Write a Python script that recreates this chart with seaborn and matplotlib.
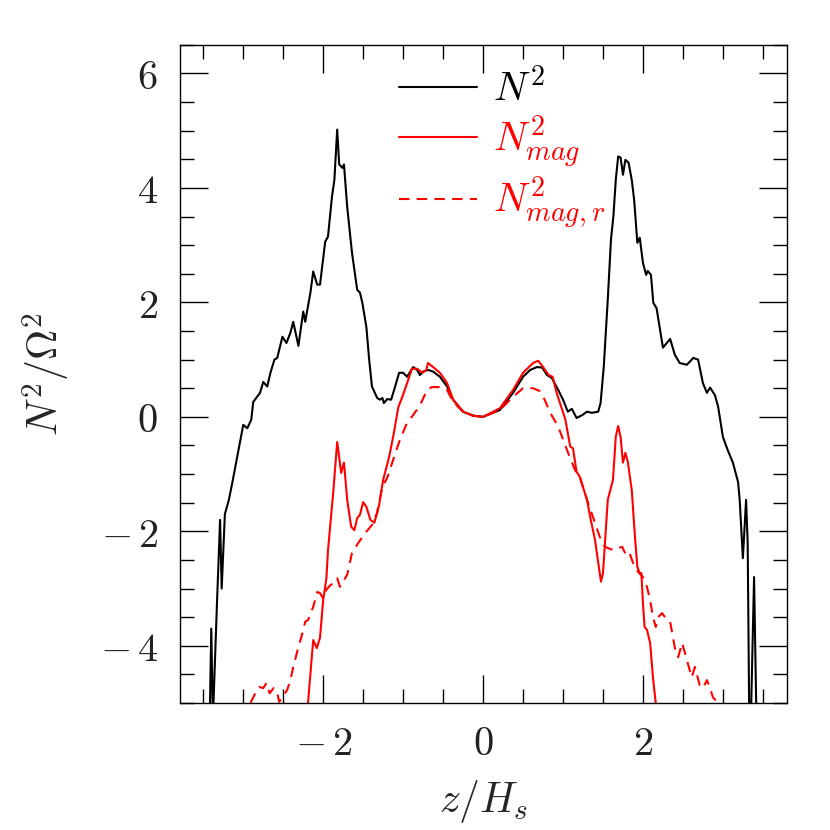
"""
Brunt-Vaisala frequency profiles across the disc height.
Total N^2 compared with the magnetic contributions N^2_mag and N^2_mag,r.
"""

import matplotlib
matplotlib.use("Agg")
import matplotlib.pyplot as plt
import seaborn as sns
from matplotlib.ticker import MultipleLocator

# ─────────────────────────────────────────────────────────────────────────────
# Data
# ─────────────────────────────────────────────────────────────────────────────

z_n2 = [
    -3.42, -3.40, -3.38, -3.33, -3.29, -3.27, -3.23, -3.18, -3.13, -3.06,
    -3.00, -2.95, -2.90, -2.875, -2.79, -2.75, -2.70, -2.66, -2.61, -2.575,
    -2.51, -2.46, -2.41, -2.375, -2.31, -2.25, -2.225, -2.16, -2.125, -2.075,
    -2.04, -1.975, -1.94, -1.89, -1.86, -1.825, -1.80, -1.76, -1.74, -1.70,
    -1.64, -1.575, -1.54, -1.51, -1.46, -1.425, -1.39, -1.325, -1.29, -1.26,
    -1.24, -1.20, -1.15, -1.10, -1.05, -1.00, -0.95, -0.875, -0.825, -0.79,
    -0.75, -0.69, -0.625, -0.54, -0.45, -0.375, -0.25, -0.125, 0.0,
    0.21, 0.375, 0.50, 0.59, 0.675, 0.74, 0.80, 0.86, 0.94, 1.00,
    1.06, 1.11, 1.17, 1.24, 1.30, 1.36, 1.44, 1.47, 1.51, 1.56,
    1.60, 1.63, 1.66, 1.69, 1.72, 1.75, 1.78, 1.82, 1.86, 1.89,
    1.93, 1.96, 2.00, 2.04, 2.06, 2.10, 2.13, 2.17, 2.25, 2.34,
    2.40, 2.46, 2.55, 2.63, 2.69, 2.75, 2.80, 2.84, 2.90, 2.94,
    3.00, 3.06, 3.125, 3.19, 3.21, 3.25, 3.29, 3.31, 3.33, 3.35,
    3.39, 3.42,
]
n2 = [
    -5.3, -3.7, -5.3, -3.3, -1.8, -3.0, -1.7, -1.45, -1.1, -0.58,
    -0.14, -0.2, -0.05, 0.26, 0.42, 0.61, 0.53, 0.77, 1.0, 1.03,
    1.4, 1.29, 1.47, 1.66, 1.24, 1.84, 1.66, 2.17, 2.54, 2.31,
    2.31, 3.06, 3.15, 3.85, 4.14, 5.02, 4.41, 4.35, 4.41, 3.67,
    2.87, 2.22, 2.17, 1.99, 1.57, 1.0, 0.53, 0.33, 0.3, 0.33,
    0.24, 0.31, 0.3, 0.53, 0.77, 0.77, 0.70, 0.87, 0.82, 0.73,
    0.79, 0.82, 0.79, 0.70, 0.53, 0.3, 0.09, 0.02, 0.0,
    0.12, 0.42, 0.7, 0.82, 0.87, 0.86, 0.73, 0.68, 0.47, 0.3,
    0.09, 0.14, -0.02, 0.03, 0.09, 0.07, 0.09, 0.24, 0.88, 2.05,
    3.1, 3.5, 4.14, 4.55, 4.53, 4.23, 4.49, 4.44, 4.14, 3.79,
    3.04, 3.13, 2.69, 2.48, 2.55, 2.48, 1.99, 1.9, 1.21, 1.36,
    1.08, 0.94, 0.91, 1.03, 1.0, 0.59, 0.42, 0.51, 0.38, 0.18,
    -0.35, -0.58, -0.8, -1.14, -1.45, -2.47, -1.45, -2.19, -5.3, -5.3,
    -2.8, -5.3,
]

z_mag = [
    -2.20, -2.19, -2.125, -2.08, -2.04, -2.00, -1.96, -1.94, -1.875, -1.825,
    -1.775, -1.74, -1.70, -1.65, -1.61, -1.575, -1.54, -1.50, -1.46, -1.41,
    -1.36, -1.30, -1.25, -1.175, -1.125, -1.06, -1.01, -0.95, -0.89, -0.825,
    -0.76, -0.71, -0.69, -0.625, -0.54, -0.45, -0.375, -0.25, -0.125, 0.0,
    0.21, 0.375, 0.50, 0.625, 0.69, 0.75, 0.82, 0.87, 0.92, 0.96,
    1.03, 1.09, 1.125, 1.17, 1.21, 1.30, 1.34, 1.40, 1.475, 1.50,
    1.56, 1.625, 1.66, 1.69, 1.72, 1.75, 1.78, 1.81, 1.86, 1.90,
    1.93, 1.96, 1.98, 2.00, 2.02, 2.05, 2.09, 2.125, 2.16, 2.18,
]
n2_mag = [
    -5.3, -5.0, -3.9, -4.04, -3.86, -3.2, -2.82, -2.33, -1.33, -0.44,
    -0.98, -0.8, -1.45, -1.92, -1.98, -1.77, -1.71, -1.49, -1.57, -1.8,
    -1.85, -1.54, -1.1, -0.7, -0.35, 0.17, 0.35, 0.59, 0.84, 0.84,
    0.77, 0.82, 0.94, 0.87, 0.77, 0.59, 0.3, 0.09, 0.02, 0.0,
    0.15, 0.47, 0.77, 0.94, 0.98, 0.87, 0.73, 0.7, 0.42, 0.25,
    -0.05, -0.52, -0.55, -0.96, -1.05, -1.45, -1.75, -2.15, -2.88, -2.73,
    -1.45, -1.1, -0.35, -0.16, -0.35, -0.8, -0.63, -0.78, -1.28, -2.1,
    -2.62, -2.73, -2.73, -3.25, -3.67, -3.72, -3.95, -4.55, -5.0, -5.3,
]

z_magr = [
    -2.95, -2.91, -2.85, -2.80, -2.75, -2.71, -2.67, -2.62, -2.575, -2.55,
    -2.51, -2.45, -2.41, -2.375, -2.31, -2.26, -2.225, -2.19, -2.125, -2.075,
    -2.04, -2.00, -1.96, -1.91, -1.86, -1.825, -1.79, -1.75, -1.70, -1.64,
    -1.56, -1.475, -1.39, -1.325, -1.26, -1.20, -1.125, -1.04, -0.95, -0.875,
    -0.79, -0.70, -0.64, -0.54, -0.45, -0.375, -0.25, -0.125, 0.0,
    0.21, 0.375, 0.50, 0.625, 0.71, 0.77, 0.84, 0.94, 1.05, 1.15,
    1.21, 1.30, 1.375, 1.46, 1.525, 1.63, 1.74, 1.80, 1.84, 1.875,
    1.94, 2.00, 2.05, 2.09, 2.125, 2.16, 2.19, 2.24, 2.30, 2.34,
    2.40, 2.44, 2.49, 2.55, 2.61, 2.65, 2.71, 2.75, 2.80, 2.84,
    2.875, 2.94, 2.97,
]
n2_magr = [
    -5.3, -5.0, -4.83, -4.72, -4.74, -4.65, -4.83, -4.74, -4.83, -4.98,
    -4.9, -4.77, -4.6, -4.37, -4.02, -3.78, -3.58, -3.55, -3.32, -3.06,
    -3.08, -3.17, -3.02, -2.94, -2.9, -2.82, -2.97, -2.88, -2.76, -2.38,
    -2.2, -2.03, -1.89, -1.68, -1.22, -1.07, -0.75, -0.4, -0.1, 0.03,
    0.2, 0.47, 0.52, 0.52, 0.47, 0.26, 0.09, 0.02, 0.0,
    0.12, 0.35, 0.5, 0.5, 0.45, 0.3, 0.07, -0.17, -0.58, -0.93,
    -1.05, -1.45, -1.75, -2.1, -2.27, -2.33, -2.27, -2.45, -2.41, -2.55,
    -2.71, -2.8, -2.97, -3.2, -3.5, -3.67, -3.5, -3.43, -3.55, -3.58,
    -4.04, -4.2, -3.95, -4.25, -4.55, -4.37, -4.69, -4.74, -4.6, -4.74,
    -4.9, -5.0, -5.3,
]

labels = [r"$N^2$", r"$N^2_{mag}$", r"$N^2_{mag,r}$"]
colors = ["black", "red", "red"]

# ─────────────────────────────────────────────────────────────────────────────
# Plot
# ─────────────────────────────────────────────────────────────────────────────

sns.set_style("ticks")
plt.rcParams["mathtext.fontset"] = "cm"
plt.rcParams["font.family"] = ["DejaVu Sans"]

fig, ax = plt.subplots(figsize=(8.3, 8.3), dpi=100)
fig.subplots_adjust(left=0.217, right=0.948, bottom=0.153, top=0.946)

common = dict(ax=ax, sort=False, estimator=None, lw=1.5)
sns.lineplot(x=z_n2, y=n2, color=colors[0], label=labels[0], **common)
sns.lineplot(x=z_mag, y=n2_mag, color=colors[1], label=labels[1], **common)
sns.lineplot(x=z_magr, y=n2_magr, color=colors[2], label=labels[2],
             linestyle=(0, (5, 3.5)), **common)

ax.set_xlim(-3.79, 3.8)
ax.set_ylim(-5, 6.5)

ax.set_xticks([-2, 0, 2], labels=[r"$-\,2$", r"$0$", r"$2$"])
ax.set_yticks([-4, -2, 0, 2, 4, 6],
              labels=[r"$-\,4$", r"$-\,2$", r"$0$", r"$2$", r"$4$", r"$6$"])
ax.xaxis.set_minor_locator(MultipleLocator(0.5))
ax.yaxis.set_minor_locator(MultipleLocator(0.5))
ax.tick_params(which="both", direction="in", top=True, right=True,
               width=1, colors="black", labelcolor="#222222")
ax.tick_params(which="major", length=20, labelsize=29)
ax.tick_params(axis="x", which="major", pad=15)
ax.tick_params(axis="y", which="major", pad=16)
ax.tick_params(which="minor", length=10)
for sp in ax.spines.values():
    sp.set_linewidth(1.0)
    sp.set_color("black")

ax.set_xlabel(r"$z/H_s$", fontsize=30, labelpad=10)
ax.set_ylabel(r"$N^2/\Omega^2$", fontsize=30, labelpad=20)

leg = ax.legend(loc="upper left", bbox_to_anchor=(0.36, 0.963), frameon=False,
                fontsize=29, handlelength=1.95, handletextpad=0.4,
                labelspacing=0.1, borderpad=0, borderaxespad=0,
                labelcolor=colors)

fig.savefig("out.png", dpi=100)
plt.close(fig)
